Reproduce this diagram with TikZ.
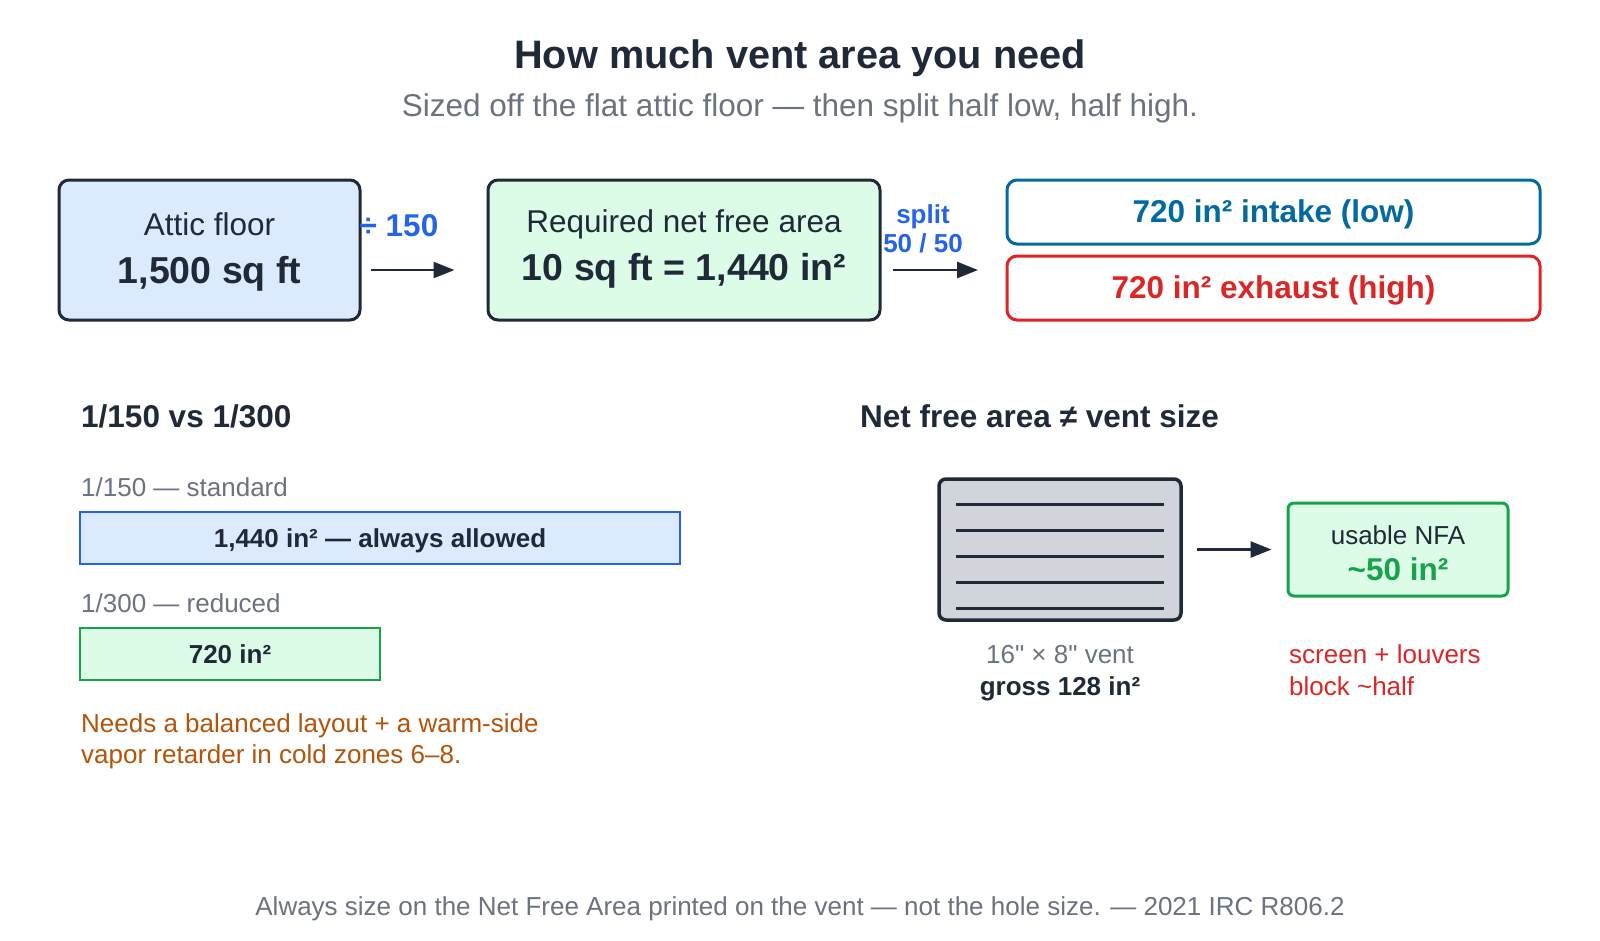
\documentclass[tikz,border=0pt]{standalone}
\usepackage{fontspec}
\setmainfont{Liberation Sans}[Ligatures=TeXOff]
\usetikzlibrary{arrows.meta,calc}
\definecolor{ink}{HTML}{1F2937}
\definecolor{mute}{HTML}{6B7280}
\definecolor{lblue}{HTML}{2563EB}
\definecolor{intk}{HTML}{0369A1}
\definecolor{redc}{HTML}{DC2626}
\definecolor{grn}{HTML}{16A34A}
\definecolor{orng}{HTML}{B45309}
\definecolor{fblue}{HTML}{DBEAFE}
\definecolor{fgreen}{HTML}{DCFCE7}
\definecolor{fgray}{HTML}{D1D5DB}
\newcommand\myfs[1]{\fontsize{#1}{#1}\selectfont}
\begin{document}
\begin{tikzpicture}[x=1pt,y=-1pt,
  bigbox/.style={draw=ink, line width=3pt, rounded corners=10pt, inner sep=0pt},
  splitbox/.style={line width=3pt, rounded corners=10pt, fill=white, inner sep=0pt, minimum width=533pt, minimum height=64pt},
  bar/.style={line width=2.5pt, inner sep=0pt, minimum height=52pt},
  t/.style={inner sep=0pt, anchor=base, text=ink},
  tl/.style={inner sep=0pt, anchor=base west},
  big/.style={font={\myfs{31.5}}},
  bigb/.style={font={\myfs{31.5}\bfseries}},
  num/.style={font={\myfs{37.5}\bfseries}},
  sm/.style={font={\myfs{26}}},
  smb/.style={font={\myfs{26}\bfseries}},
  arr/.style={draw=ink, line width=2.5pt, -{Triangle[length=21pt,width=16pt]}},
  ventline/.style={draw=ink, line width=3pt}
]
\useasboundingbox (0,0) rectangle (1600,940);
\fill[white] (0,0) rectangle (1600,940);

% title
\node[t, font={\myfs{39.7}\bfseries}] (title) at (800,68) {How much vent area you need};
\node[t, big, text=mute] (subtitle) at (800,116) {Sized off the flat attic floor — then split half low, half high.};

% top row
\node[bigbox, fill=fblue, minimum width=301pt, minimum height=140pt] (attic) at (209.5,250) {};
\node[t, big] (atticA) at (209.5,235) {Attic floor};
\node[t, num] (atticB) at (209.5,283) {1,500 sq ft};

\node[bigbox, fill=fgreen, minimum width=392pt, minimum height=140pt] (req) at (684,250) {};
\node[t, big] (reqA) at (684,232) {Required net free area};
\node[t, num] (reqB) at (684,280) {10 sq ft = 1,440 in²};

\node[splitbox, draw=intk] (intake) at (1273.5,212) {};
\node[t, bigb, text=intk] (intakeT) at (1273.5,222) {720 in² intake (low)};
\node[splitbox, draw=redc] (exhaust) at (1273.5,288) {};
\node[t, bigb, text=redc] (exhaustT) at (1273.5,298) {720 in² exhaust (high)};

\coordinate (splitin) at (1007,270);
\draw[arr, shorten <=9pt, shorten >=32pt] ($(attic.east)+(0,20)$) -- ($(req.west)+(0,20)$);
\node[t, bigb, text=lblue] (div) at (399,236) {÷ 150};
\draw[arr, shorten <=11pt, shorten >=29pt] ($(req.east)+(0,20)$) -- (splitin);
\node[t, smb, text=lblue] (splitA) at (923,223) {split};
\node[t, smb, text=lblue] (splitB) at (923,252) {50 / 50};

% left section
\node[tl, bigb, text=ink] (lhead) at (81,427) {1/150 vs 1/300};
\node[tl, sm, text=mute] (std) at (81,496) {1/150 — standard};
\node[bar, draw=lblue, fill=fblue, minimum width=600pt] (barA) at (380,538) {};
\node[t, smb] (barAT) at (380,547) {1,440 in² — always allowed};
\node[tl, sm, text=mute] (red) at (81,612) {1/300 — reduced};
\node[bar, draw=grn, fill=fgreen, minimum width=300pt] (barB) at (230,654) {};
\node[t, smb] (barBT) at (230,663) {720 in²};
\node[tl, sm, text=orng] (noteA) at (81,732) {Needs a balanced layout + a warm-side};
\node[tl, sm, text=orng] (noteB) at (81,763) {vapor retarder in cold zones 6–8.};

% right section
\node[tl, bigb, text=ink] (rhead) at (860,427) {Net free area ≠ vent size};
\node[draw=ink, line width=3.5pt, fill=fgray, rounded corners=7pt, inner sep=0pt, minimum width=242pt, minimum height=141pt] (vent) at (1060,549.5) {};
\foreach \yy in {504,530,556,582,608} \draw[ventline] (956,\yy) -- (1164,\yy);
\node[draw=grn, line width=3pt, fill=fgreen, rounded corners=6pt, inner sep=0pt, minimum width=220pt, minimum height=93pt] (nfa) at (1398,549.5) {};
\node[t, sm] (nfaA) at (1398,544) {usable NFA};
\node[t, bigb, text=grn] (nfaB) at (1398,580) {\textasciitilde 50 in²};
\draw[arr, shorten <=14pt, shorten >=15pt] (vent.east) -- (nfa.west);
\node[t, sm, text=mute] (ventA) at (1060,663) {16" × 8" vent};
\node[t, smb] (ventB) at (1060,695) {gross 128 in²};
\node[tl, sm, text=redc] (scrA) at (1289,663) {screen + louvers};
\node[tl, sm, text=redc] (scrB) at (1289,695) {block \textasciitilde half};

% footer
\node[t, sm, text=mute] (foot) at (800,915) {Always size on the Net Free Area printed on the vent — not the hole size. — 2021 IRC R806.2};
\end{tikzpicture}
\end{document}
